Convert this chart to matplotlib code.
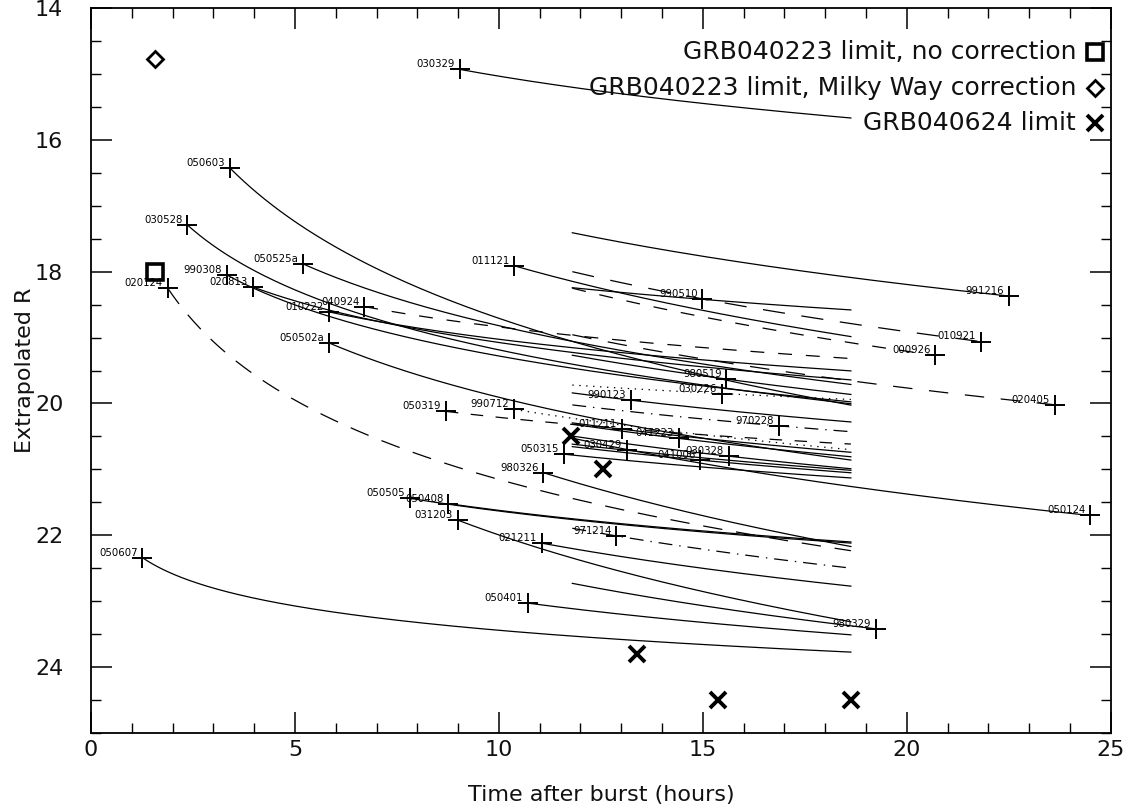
import numpy as np
import matplotlib
matplotlib.use("Agg")
import matplotlib.pyplot as plt
from matplotlib.ticker import MultipleLocator

plt.rcParams['font.family'] = ['DejaVu Sans']
plt.rcParams['lines.scale_dashes'] = False

# ---------------- data ----------------
grb_names = ["030329", "050603", "030528", "050525a", "990308", "020813", "010222",
             "040924", "050502a", "011121", "050319", "990712", "050505", "050408",
             "031203", "050401", "050607", "020124", "980326", "990510", "980519",
             "030226", "990123", "011211", "041223", "030429", "050315", "030328",
             "041006", "971214", "021211", "970228", "991216", "010921", "000926",
             "020405", "050124", "980329"]
grb_time = [9.04, 3.41, 2.36, 5.19, 3.33, 3.96, 5.83,
            6.70, 5.83, 10.37, 8.70, 10.37, 7.82, 8.76,
            8.99, 10.71, 1.26, 1.88, 11.09, 14.99, 15.58,
            15.47, 13.23, 13.01, 14.41, 13.13, 11.60, 15.63,
            14.94, 12.88, 11.05, 16.87, 22.51, 21.81, 20.70,
            23.63, 24.50, 19.24]
grb_mag = [14.93, 16.43, 17.29, 17.88, 18.05, 18.23, 18.61,
           18.53, 19.08, 17.91, 20.12, 20.09, 21.44, 21.52,
           21.77, 23.03, 22.34, 18.25, 21.05, 18.42, 19.63,
           19.85, 19.95, 20.39, 20.53, 20.71, 20.77, 20.80,
           20.86, 22.01, 22.12, 20.34, 18.37, 19.06, 19.27,
           20.02, 21.70, 23.42]
# temporal decay index alpha (F ~ t^-alpha)
grb_alpha = [0.94, 1.95, 1.21, 1.32, 1.03, 0.84, 0.71,
             0.71, 1.41, 1.69, 0.60, 0.96, 0.72, 0.71,
             1.95, 0.80, 0.49, 1.60, 1.99, 0.68, 1.20,
             0.44, 0.89, 0.90, 1.00, 0.80, 0.70, 1.00,
             0.80, 1.22, 1.15, 0.82, 1.37, 1.59, 1.67,
             1.41, 1.48, 1.30]

# GRB040624 observing window (hours)
window_start = 11.8
window_end = 18.63

# upper limits
lim040223_t = [1.57]
lim040223_nocorr = [18.00]
lim040223_mw = [14.77]
lim040624_t = [11.76, 12.56, 13.38, 15.37, 18.63]
lim040624_mag = [20.49, 21.00, 23.80, 24.50, 24.50]

legend_labels = ["GRB040223 limit, no correction",
                 "GRB040223 limit, Milky Way correction",
                 "GRB040624 limit"]

# line styles
styles = {
    "040924": (0, (10, 10)),
    "050319": (0, (9, 9)),
    "990712": (0, (1, 4)),
    "020124": (0, (14, 10)),
    "030226": (0, (1, 4)),
    "971214": (0, (10, 5, 1, 5)),
    "970228": (0, (10, 5, 1, 5)),
    "010921": (0, (16, 12)),
    "000926": (0, (10, 10)),
    "020405": (0, (14, 12)),
}

# ---------------- figure ----------------
fig = plt.figure(figsize=(11.38, 8.09), dpi=100)
ax = fig.add_axes([0.080, 0.094, 0.896, 0.896])

for name, t0, m0, a in zip(grb_names, grb_time, grb_mag, grb_alpha):
    t_lo = min(t0, window_start)
    t_hi = max(t0, window_end)
    tt = np.geomspace(t_lo, t_hi, 200)
    mm = m0 + 2.5 * a * np.log10(tt / t0)
    ls = styles.get(name, '-')
    ax.plot(tt, mm, color='black', lw=0.9, linestyle=ls)
    ax.plot([t0], [m0], marker='+', ms=15, mew=1.4, color='black', ls='none')
    ax.annotate(name, (t0, m0), xytext=(-3.5, 1.5), textcoords='offset points',
                ha='right', va='baseline', fontsize=7.3)

ax.plot(lim040223_t, lim040223_nocorr, marker='s', ms=11, mew=2.6, mfc='none',
        mec='black', ls='none')
ax.plot(lim040223_t, lim040223_mw, marker='D', ms=8, mew=2.0, mfc='none',
        mec='black', ls='none')
ax.plot(lim040624_t, lim040624_mag, marker='x', ms=11, mew=2.8, color='black',
        ls='none')

# legend (drawn as text + marker, right aligned)
leg_y = [14.67, 15.21, 15.75]
leg_markers = [dict(marker='s', ms=11, mew=2.6, mfc='none', mec='black'),
               dict(marker='D', ms=8, mew=2.0, mfc='none', mec='black'),
               dict(marker='x', ms=11, mew=2.8, color='black')]
for lab, yy, mk in zip(legend_labels, leg_y, leg_markers):
    ax.text(24.15, yy, lab, ha='right', va='center', fontsize=18,
            color='#111111')
    ax.plot([24.61], [yy], ls='none', **mk)

ax.set_xlim(0, 25)
ax.set_ylim(25, 14)
ax.xaxis.set_major_locator(MultipleLocator(5))
ax.xaxis.set_minor_locator(MultipleLocator(1))
ax.yaxis.set_major_locator(MultipleLocator(2))
ax.yaxis.set_minor_locator(MultipleLocator(0.5))
ax.tick_params(which='both', direction='in', top=True, right=True, labelsize=16,
               labelcolor='#111111')
ax.tick_params(which='major', length=15, width=1.1)
ax.tick_params(which='minor', length=7, width=1.0)
ax.tick_params(axis='x', which='major', pad=5)
ax.tick_params(axis='y', which='major', pad=20)
for s in ax.spines.values():
    s.set_linewidth(1.3)

ax.set_xlabel("Time after burst (hours)", fontsize=16, color='#111111')
ax.set_ylabel("Extrapolated R", fontsize=16, color='#111111')
ax.xaxis.set_label_coords(0.5, -0.0717)
ax.yaxis.set_label_coords(-0.055, 0.5)

fig.savefig("out.png", dpi=100)
